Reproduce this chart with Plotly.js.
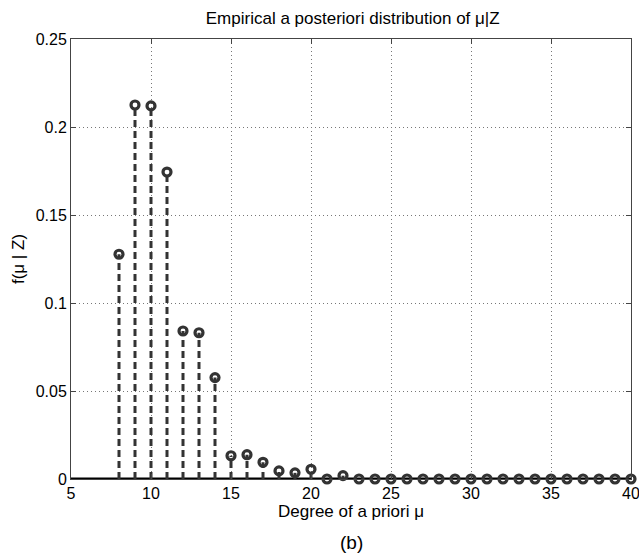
<!DOCTYPE html>
<html>
<head>
<meta charset="utf-8">
<script src="https://cdn.plot.ly/plotly-3.0.1.min.js"></script>
<style>html,body{margin:0;padding:0;background:#fff;}#plot{width:639px;height:557px;}</style>
</head>
<body>
<div id="plot"></div>
<script>
// Data
const degrees = [8,9,10,11,12,13,14,15,16,17,18,19,20,21,22,23,24,25,26,27,28,29,30,31,32,33,34,35,36,37,38,39,40];
const probability = [0.1277,0.2125,0.2120,0.1744,0.0841,0.0831,0.0576,0.0132,0.0138,0.0095,0.0046,0.0035,0.0055,0.0,0.0019,0,0,0,0,0,0,0,0,0,0,0,0,0,0,0,0,0,0];
const xTicks = [5,10,15,20,25,30,35,40];
const yTicks = [0,0.05,0.1,0.15,0.2,0.25];
const yTickLabels = ['0','0.05','0.1','0.15','0.2','0.25'];
const xRange = [5,40];
const yRange = [0,0.25];

// Build stem segments from the data
const stemX = [], stemY = [];
degrees.forEach((d,i) => { stemX.push(d,d,null); stemY.push(0,probability[i],null); });

const ink = '#333333';
const font = 'Liberation Sans, Arial, Helvetica, sans-serif';

const traces = [
  {x: stemX, y: stemY, mode: 'lines', line: {color: ink, width: 3, dash: '7px,4px'}, hoverinfo: 'skip', showlegend: false},
  {x: degrees, y: probability, mode: 'markers', marker: {symbol: 'circle-open', size: 8, color: ink, line: {width: 3.2, color: ink}}, showlegend: false, cliponaxis: false}
];

const layout = {
  width: 639, height: 557,
  margin: {l: 71, r: 8, t: 39, b: 78},
  paper_bgcolor: '#fff', plot_bgcolor: '#fff',
  font: {family: font, color: '#000', size: 16},
  title: {text: 'Empirical a posteriori distribution of μ|Z', font: {size: 17, family: font, color: '#000'}, x: 0.552, xanchor: 'center', y: 0.968, yanchor: 'middle'},
  xaxis: {
    range: xRange, tickvals: xTicks, ticktext: xTicks.map(String),
    showline: true, mirror: 'ticks', linecolor: '#444', linewidth: 1,
    ticks: 'inside', ticklen: 5, tickcolor: '#444',
    showgrid: true, gridcolor: '#777', griddash: '1px,3px', gridwidth: 1,
    zeroline: false, tickfont: {size: 16, family: font}, ticklabeloverflow: 'allow',
    title: {text: 'Degree of a priori μ', font: {size: 17, family: font}, standoff: 0}
  },
  yaxis: {
    range: yRange, tickvals: yTicks, ticktext: yTickLabels,
    showline: true, mirror: 'ticks', linecolor: '#444', linewidth: 1,
    ticks: 'inside', ticklen: 5, tickcolor: '#444',
    showgrid: true, gridcolor: '#777', griddash: '1px,3px', gridwidth: 1,
    zeroline: false, tickfont: {size: 16, family: font}, ticklabeloverflow: 'allow',
    title: {text: 'f(μ | Z)', font: {size: 17, family: font}, standoff: 6}
  },
  shapes: [
    {type: 'line', xref: 'paper', yref: 'y', x0: 0, x1: 1, y0: 0, y1: 0, line: {color: '#000', width: 3}, layer: 'below'}
  ],
  annotations: [
    {text: '(b)', xref: 'paper', yref: 'paper', x: 0.5, y: -0.145, xanchor: 'center', yanchor: 'middle', showarrow: false, font: {size: 19, family: font, color: '#000'}}
  ]
};

Plotly.newPlot('plot', traces, layout, {displayModeBar: false, staticPlot: true});
</script>
</body>
</html>
